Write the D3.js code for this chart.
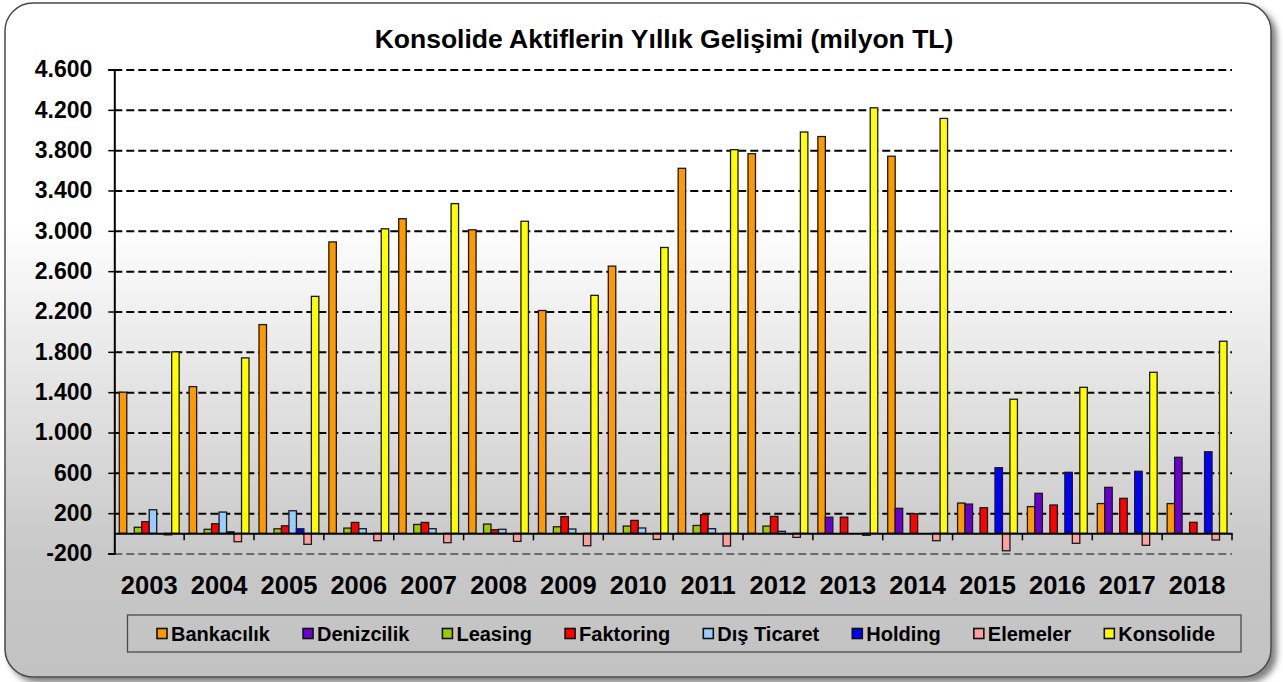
<!DOCTYPE html>
<html>
<head>
<meta charset="utf-8">
<script src="https://cdn.jsdelivr.net/npm/d3@7"></script>
<style>
  html, body { margin: 0; padding: 0; background: #ffffff; }
  svg { display: block; font-family: "Liberation Sans", Arial, sans-serif; }
</style>
</head>
<body>
<svg id="chart" width="1283" height="682"></svg>
<script>
// ---------------- DATA ----------------
const years = ["2003","2004","2005","2006","2007","2008","2009","2010","2011","2012","2013","2014","2015","2016","2017","2018"];
const seriesNames = ["Bankacılık","Denizcilik","Leasing","Faktoring","Dış Ticaret","Holding","Elemeler","Konsolide"];
const bankacilik = [1400, 1455, 2070, 2890, 3120, 3010, 2210, 2650, 3620, 3765, 3935, 3740, 300, 265, 295, 295];
const denizcilik = [0, 0, 0, 0, 0, 0, 0, 0, 0, 0, 160, 248, 290, 397, 456, 754];
const leasing    = [60, 40, 45, 52, 88, 92, 65, 72, 78, 72, 0, 0, 0, 0, 0, 0];
const faktoring  = [115, 95, 75, 108, 108, 36, 165, 128, 185, 168, 160, 195, 254, 281, 347, 109];
const disTicaret = [234, 211, 224, 46, 46, 40, 43, 53, 46, 20, 0, 0, 0, 0, 0, 0];
const holding    = [0, 15, 45, 0, 0, 0, 0, 0, 0, 0, 0, 0, 651, 605, 615, 809];
const elemeler   = [-15, -83, -109, -73, -93, -80, -123, -60, -126, -40, -20, -73, -173, -99, -119, -66];
const konsolide  = [1800, 1740, 2350, 3020, 3270, 3095, 2360, 2835, 3805, 3980, 4220, 4115, 1330, 1448, 1597, 1905];
const yTickValues = [-200, 200, 600, 1000, 1400, 1800, 2200, 2600, 3000, 3400, 3800, 4200, 4600];
const titleText = "Konsolide Aktiflerin Yıllık Gelişimi (milyon TL)";

const seriesValues = [bankacilik, denizcilik, leasing, faktoring, disTicaret, holding, elemeler, konsolide];
const colors = ["#FF9900", "#6A00D0", "#99CC00", "#FF0000", "#99CCFF", "#0000FF", "#FFA0A0", "#FFFF00"];

// ---------------- LAYOUT ----------------
const svg = d3.select("#chart");
const plot = { left: 114.3, right: 1232, top: 69.5, bottom: 553.5 };

const defs = svg.append("defs");
const grad = defs.append("linearGradient").attr("id", "panelGrad")
  .attr("x1", 0).attr("y1", 0).attr("x2", 0).attr("y2", 1);
grad.append("stop").attr("offset", "0%").attr("stop-color", "#ffffff");
grad.append("stop").attr("offset", "32%").attr("stop-color", "#ffffff");
grad.append("stop").attr("offset", "82%").attr("stop-color", "#c8c8c8");
grad.append("stop").attr("offset", "100%").attr("stop-color", "#c2c2c2");

const filt = defs.append("filter").attr("id", "shadow")
  .attr("x", "-5%").attr("y", "-5%").attr("width", "110%").attr("height", "110%");
filt.append("feDropShadow").attr("dx", 5).attr("dy", 5).attr("stdDeviation", 3)
  .attr("flood-color", "#000").attr("flood-opacity", 0.5);

svg.append("rect")
  .attr("x", 5).attr("y", 3).attr("width", 1266).attr("height", 674)
  .attr("rx", 28).attr("ry", 28)
  .attr("fill", "url(#panelGrad)")
  .attr("stroke", "#4a4a4a").attr("stroke-width", 1.5)
  .attr("filter", "url(#shadow)");

// Title
svg.append("text")
  .attr("x", 664).attr("y", 48)
  .attr("text-anchor", "middle")
  .attr("font-size", 26.5).attr("font-weight", "bold").attr("fill", "#000")
  .text(titleText);

// Scales
const y = d3.scaleLinear().domain([-200, 4600]).range([plot.bottom, plot.top]);
const x0 = d3.scaleBand().domain(years).range([plot.left, plot.right]).padding(0);
const x1 = d3.scaleBand().domain(seriesNames).range([5, x0.bandwidth() - 5]).padding(0);

const locale = d3.formatLocale({ decimal: ",", thousands: ".", grouping: [3], currency: ["", ""], minus: "-" });
const fmt = locale.format(",");

// Gridlines
const grid = svg.append("g").attr("transform", `translate(${plot.left},0)`)
  .call(d3.axisLeft(y).tickValues(yTickValues).tickSize(-(plot.right - plot.left)).tickFormat(""));
grid.select(".domain").remove();
grid.selectAll(".tick line")
  .attr("stroke", d => d === -200 ? "#6a6a6a" : "#000")
  .attr("stroke-width", 2)
  .attr("stroke-dasharray", "8,4");

// Bars
const groups = svg.append("g").selectAll("g")
  .data(years)
  .join("g")
  .attr("transform", d => `translate(${x0(d)},0)`);

groups.selectAll("rect")
  .data((d, gi) => seriesNames.map((s, si) => ({ s, si, v: seriesValues[si][gi] })).filter(e => e.v !== 0))
  .join("rect")
  .attr("x", e => x1(e.s))
  .attr("width", x1.bandwidth())
  .attr("y", e => y(Math.max(0, e.v)))
  .attr("height", e => Math.abs(y(e.v) - y(0)))
  .attr("fill", e => colors[e.si])
  .attr("stroke", "#1a1a1a")
  .attr("stroke-width", 1.3);

// Y axis
const yAxis = svg.append("g").attr("transform", `translate(${plot.left},0)`)
  .call(d3.axisLeft(y).tickValues(yTickValues).tickSize(6).tickPadding(16).tickFormat(d => fmt(d)));
yAxis.select(".domain").attr("stroke", "#000").attr("stroke-width", 2);
yAxis.selectAll(".tick line").attr("stroke", "#000").attr("stroke-width", 1.5);
yAxis.selectAll(".tick text")
  .attr("font-size", 23).attr("font-weight", "bold").attr("fill", "#000")
  .attr("font-family", "'Liberation Sans', Arial, sans-serif");

// Category axis line at zero with boundary ticks
const zeroAxis = svg.append("g").attr("transform", `translate(0,${y(0)})`)
  .call(d3.axisBottom(x0).tickSize(0).tickFormat(""));
zeroAxis.select(".domain").attr("stroke", "#000").attr("stroke-width", 2);
const boundaries = years.map(d => x0(d)).concat([x0(years[years.length - 1]) + x0.bandwidth()]);
zeroAxis.selectAll("line.bound")
  .data(boundaries.slice(1))
  .join("line")
  .attr("class", "bound")
  .attr("x1", d => d).attr("x2", d => d)
  .attr("y1", 0).attr("y2", 7)
  .attr("stroke", "#000").attr("stroke-width", 1.5);

// Year labels
const xLab = svg.append("g").attr("transform", `translate(0,${y(-200)})`)
  .call(d3.axisBottom(x0).tickSize(0).tickPadding(22));
xLab.select(".domain").remove();
xLab.selectAll(".tick text")
  .attr("font-size", 25.5).attr("font-weight", "bold").attr("fill", "#000")
  .attr("font-family", "'Liberation Sans', Arial, sans-serif");

// Legend
const legend = { x: 127.5, y: 615, w: 1113.5, h: 37, start: 157, end: 1215, sq: 10, gapText: 4 };
svg.append("rect")
  .attr("x", legend.x).attr("y", legend.y).attr("width", legend.w).attr("height", legend.h)
  .attr("fill", "none").attr("stroke", "#4a4a4a").attr("stroke-width", 1.3);

const lg = svg.append("g");
const items = lg.selectAll("g").data(seriesNames).join("g");
items.append("rect")
  .attr("width", legend.sq).attr("height", legend.sq)
  .attr("y", legend.y + legend.h / 2 - legend.sq / 2)
  .attr("fill", (d, i) => colors[i])
  .attr("stroke", "#111").attr("stroke-width", 1.6);
items.append("text")
  .attr("x", legend.sq + legend.gapText)
  .attr("y", legend.y + legend.h / 2 + 7)
  .attr("font-size", 20).attr("font-weight", "bold").attr("fill", "#000")
  .text(d => d);
const widths = [];
items.each(function () { widths.push(legend.sq + legend.gapText + d3.select(this).select("text").node().getComputedTextLength()); });
const gap = (legend.end - legend.start - d3.sum(widths)) / (widths.length - 1);
let cx = legend.start;
items.attr("transform", (d, i) => { const t = `translate(${cx},0)`; cx += widths[i] + gap; return t; });
</script>
</body>
</html>
